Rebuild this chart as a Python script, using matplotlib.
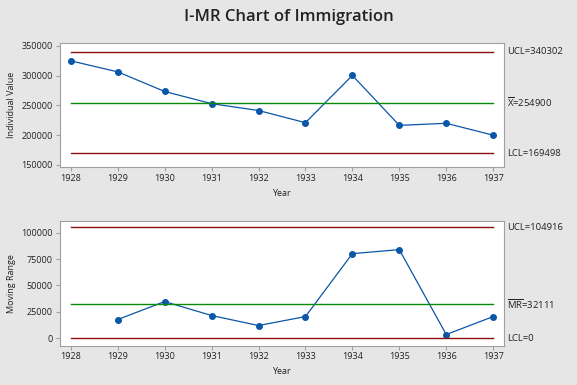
import matplotlib.pyplot as plt

years = [1928, 1929, 1930, 1931, 1932, 1933, 1934, 1935, 1936, 1937]
immigration = [325000, 306500, 273500, 253000, 241500, 221000, 300500, 216500, 220000, 200000]
mr_years = [1929, 1930, 1931, 1932, 1933, 1934, 1935, 1936, 1937]
moving_range = [17700, 34700, 21500, 12000, 20500, 80100, 83900, 3500, 20500]

i_ucl, i_cl, i_lcl = 340302, 254900, 169498
mr_ucl, mr_cl, mr_lcl = 104916, 32111, 0

plt.rcParams['font.family'] = ['Open Sans', 'DejaVu Sans']
plt.rcParams['mathtext.fontset'] = 'custom'
plt.rcParams['mathtext.rm'] = 'Open Sans'

blue = '#0a56a8'
red = '#8c1010'
green = '#0a8a0a'
bg = '#e6e6e6'
txt = '#222222'

fig = plt.figure(figsize=(5.77, 3.85), dpi=100, facecolor=bg)
W, H = 577, 385
ax1 = fig.add_axes([59.5 / W, 1 - 167 / H, 444 / W, 124 / H])
ax2 = fig.add_axes([59.5 / W, 1 - 345.5 / H, 444 / W, 124.5 / H])

fig.text(0.5, 1 - 17 / H, 'I-MR Chart of Immigration', ha='center', va='center',
         fontsize=12, fontweight='semibold', color=txt)


def style(ax):
    ax.set_facecolor('white')
    for s in ax.spines.values():
        s.set_color('#a0a0a0')
    ax.tick_params(colors='#a0a0a0', labelcolor=txt, labelsize=6.5, length=3, width=0.8, pad=2)
    ax.set_xticks(years)
    ax.set_xlim(1927.76, 1937.22)
    ax.set_xlabel('Year', fontsize=6.5, color=txt, labelpad=4)


def limit_labels(ax, vals, labels):
    for v, lab in zip(vals, labels):
        ax.text(1.008, v, lab, transform=ax.get_yaxis_transform(), va='center',
                fontsize=6.8, color=txt)


# Individual chart
ax1.plot(years, immigration, color=blue, lw=0.9, marker='o', ms=4)
for v, c in [(i_ucl, red), (i_cl, green), (i_lcl, red)]:
    ax1.axhline(v, xmin=0.025, xmax=0.977, color=c, lw=1)
ax1.set_ylim(146500, 355000)
ax1.set_yticks([150000, 200000, 250000, 300000, 350000])
ax1.set_ylabel('Individual Value', fontsize=6.5, color=txt, labelpad=4)
style(ax1)
limit_labels(ax1, [i_ucl, i_cl, i_lcl],
             ['UCL=340302', r'$\mathregular{\overline{X}}$=254900', 'LCL=169498'])

# Moving range chart
ax2.plot(mr_years, moving_range, color=blue, lw=0.9, marker='o', ms=4)
for v, c in [(mr_ucl, red), (mr_cl, green), (mr_lcl, red)]:
    ax2.axhline(v, xmin=0.025, xmax=0.977, color=c, lw=1)
ax2.set_ylim(-6900, 111000)
ax2.set_yticks([0, 25000, 50000, 75000, 100000])
ax2.set_ylabel('Moving Range', fontsize=6.5, color=txt, labelpad=4)
style(ax2)
limit_labels(ax2, [mr_ucl, mr_cl, mr_lcl],
             ['UCL=104916', r'$\mathregular{\overline{MR}}$=32111', 'LCL=0'])

fig.savefig('out.png', dpi=100, facecolor=bg)
